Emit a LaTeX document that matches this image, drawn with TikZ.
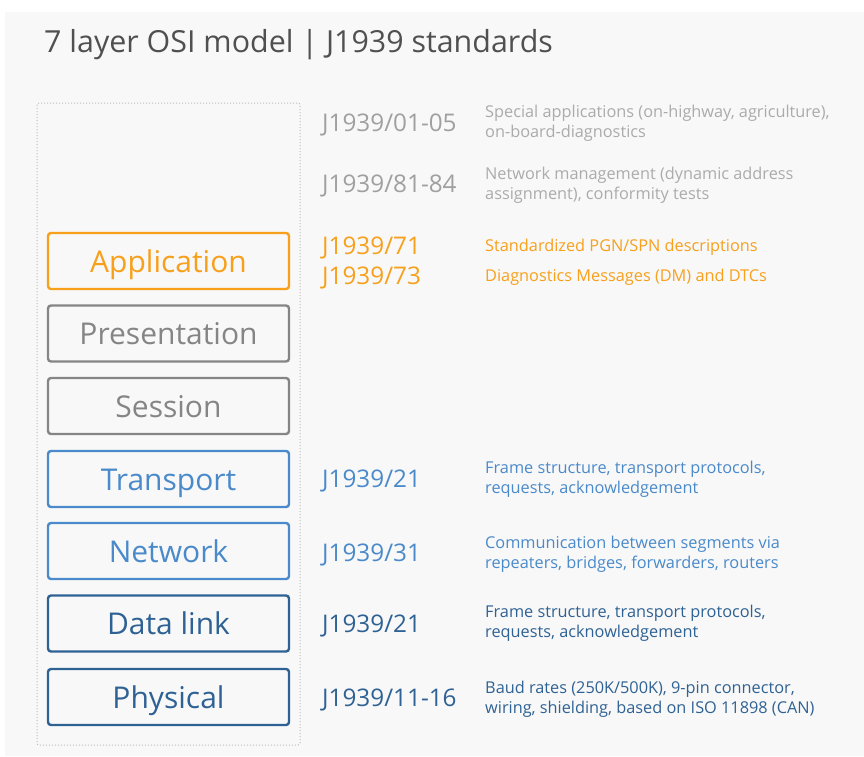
\documentclass[tikz,border=0pt]{standalone}
\usepackage{fontspec}
\setmainfont{Open Sans}
\begin{document}
\begin{tikzpicture}[x=1pt,y=-1pt,
  layerbox/.style={draw, line width=2.4pt, rounded corners=3pt, minimum width=241pt,
    minimum height=56pt, inner sep=0pt, text height=24pt, text depth=2pt,
    font=\fontsize{30}{34}\selectfont},
  stdlabel/.style={anchor=west, inner sep=0pt, yshift=-2.5pt, font=\fontsize{24.3}{28}\selectfont},
  desc/.style={anchor=west, inner sep=0pt, yshift=-2.5pt, align=left, font=\fontsize{16.3}{19.5}\selectfont}]
\definecolor{bg}{HTML}{F8F8F8}
\definecolor{titlegray}{HTML}{505050}
\definecolor{appor}{HTML}{F7A01C}
\definecolor{midgray}{HTML}{858585}
\definecolor{lightgray}{HTML}{A0A0A0}
\definecolor{paletxt}{HTML}{ABABAB}
\definecolor{lblue}{HTML}{4A8ACA}
\definecolor{dblue}{HTML}{2F6294}
\definecolor{dotgray}{HTML}{BDBDBD}
% canvas
\useasboundingbox (0,0) rectangle (864,756);
\fill[white] (0,0) rectangle (864,756);
\fill[bg] (5,12) rectangle (864,756);
% title
\node[anchor=base west, inner sep=0pt, text=titlegray, font=\fontsize{30.4}{34}\selectfont]
  (title) at (44,52) {7 layer OSI model | J1939 standards};
% dotted frame around the layer stack
\draw[dotgray, line width=1pt, dotted, rounded corners=2pt] (37,103) rectangle (300,745);
% OSI layers
\node[layerbox, draw=appor, text=appor]   (app)   at (168.5,261) {Application};
\node[layerbox, draw=midgray, text=midgray] (pres) at (168.5,333.5) {Presentation};
\node[layerbox, draw=midgray, text=midgray] (sess) at (168.5,406) {Session};
\node[layerbox, draw=lblue, text=lblue]   (trans) at (168.5,479) {Transport};
\node[layerbox, draw=lblue, text=lblue]   (net)   at (168.5,551) {Network};
\node[layerbox, draw=dblue, text=dblue]   (dl)    at (168.5,623.5) {Data link};
\node[layerbox, draw=dblue, text=dblue]   (phys)  at (168.5,697) {Physical};
% standards
\node[stdlabel, text=lightgray] (s0105) at (322,122) {J1939/01-05};
\node[stdlabel, text=lightgray] (s8184) at (322,183) {J1939/81-84};
\node[stdlabel, text=appor] (s71) at (322,245) {J1939/71};
\node[stdlabel, text=appor] (s73) at (322,275) {J1939/73};
\node[stdlabel, text=lblue] (s21a) at (322,478) {J1939/21};
\node[stdlabel, text=lblue] (s31) at (322,552) {J1939/31};
\node[stdlabel, text=dblue] (s21b) at (322,623) {J1939/21};
\node[stdlabel, text=dblue] (s1116) at (322,697) {J1939/11-16};
% descriptions
\node[desc, text=paletxt] (d0105) at (485,121) {Special applications (on-highway, agriculture),\\on-board-diagnostics};
\node[desc, text=paletxt] (d8184) at (485,183) {Network management (dynamic address\\assignment), conformity tests};
\node[desc, text=appor] (d71) at (485,245) {Standardized PGN/SPN descriptions};
\node[desc, text=appor] (d73) at (485,275) {Diagnostics Messages (DM) and DTCs};
\node[desc, text=lblue] (d21a) at (485,477) {Frame structure, transport protocols,\\requests, acknowledgement};
\node[desc, text=lblue] (d31) at (485,552) {Communication between segments via\\repeaters, bridges, forwarders, routers};
\node[desc, text=dblue] (d21b) at (485,621) {Frame structure, transport protocols,\\requests, acknowledgement};
\node[desc, text=dblue] (d1116) at (485,697) {Baud rates (250K/500K), 9-pin connector,\\wiring, shielding, based on ISO 11898 (CAN)};
\end{tikzpicture}
\end{document}
